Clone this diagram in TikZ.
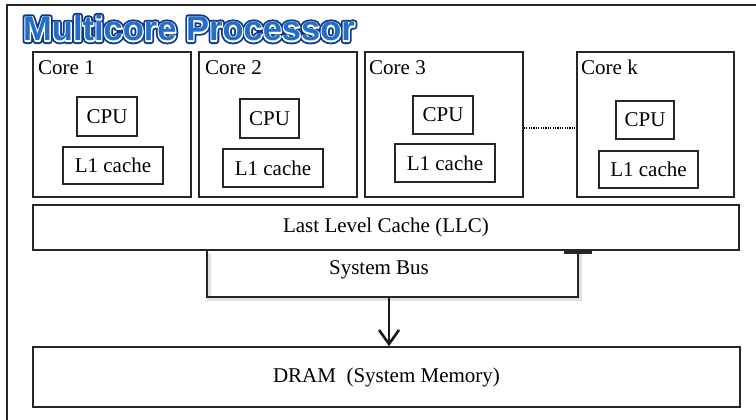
\documentclass[tikz,border=0pt]{standalone}
\usepackage{fontspec}
\setmainfont{Liberation Serif}
\newfontfamily\titlefont{Liberation Sans}
\usetikzlibrary{arrows.meta,calc}
\definecolor{tdark}{RGB}{15,55,140}
\definecolor{tmid}{RGB}{35,110,200}
\newcommand{\strokedtext}[2]{\special{pdf:literal direct 1 j 2 Tr #1 w}#2\special{pdf:literal direct 0 Tr 1 w 0 j}}
\tikzset{
  box/.style={draw=black!85, line width=1.6pt, inner sep=0pt, fill=white},
  lbl/.style={font=\fontsize{21}{23}\selectfont, inner sep=0pt},
  buswire/.style={line width=2.2pt, black!85},
  ttxt/.style={font=\titlefont\bfseries\fontsize{34.5}{37}\selectfont, inner sep=0pt, anchor=base west}
}
\begin{document}
\begin{tikzpicture}[x=1pt,y=-1pt]
\useasboundingbox (0,0) rectangle (756,420);
\fill[white] (0,0) rectangle (756,420);
% outer frame (cropped)
\draw[line width=2pt, black!85] (7,420) -- (7,5) -- (756,5);
% title: dark outline, thin white ring, blue letters
\coordinate (tpos) at (23,41);
\node[ttxt, text=tdark] (titlebg) at (tpos) {\strokedtext{6}{Multicore Processor}};
\node[ttxt, text=white] (titlering) at (tpos) {\strokedtext{2.4}{Multicore Processor}};
\node[ttxt, text=tmid] (title) at (tpos) {Multicore Processor};
% cores
\node[box, minimum width=158pt, minimum height=145pt] (c1) at (112,124.5) {};
\node[box, minimum width=158pt, minimum height=145pt] (c2) at (278,124.5) {};
\node[box, minimum width=158pt, minimum height=145pt] (c3) at (444,124.5) {};
\node[box, minimum width=157pt, minimum height=145pt] (ck) at (655.5,124.5) {};
\node[lbl, anchor=base west] (c1l) at (38,75) {Core 1};
\node[lbl, anchor=base west] (c2l) at (205,75) {Core 2};
\node[lbl, anchor=base west] (c3l) at (369,75) {Core 3};
\node[lbl, anchor=base west] (ckl) at (581,75) {Core k};
% CPUs
\node[box, lbl, minimum width=60pt, minimum height=39pt] (cpu1) at (107,116.5) {CPU};
\node[box, lbl, minimum width=59pt, minimum height=39pt] (cpu2) at (269.5,118.5) {CPU};
\node[box, lbl, minimum width=60pt, minimum height=38pt] (cpu3) at (443,115) {CPU};
\node[box, lbl, minimum width=58pt, minimum height=38pt] (cpuk) at (645,120) {CPU};
% L1
\node[box, lbl, minimum width=100pt, minimum height=37pt] (l1a) at (113,165.5) {L1 cache};
\node[box, lbl, minimum width=100pt, minimum height=38pt] (l1b) at (273,168) {L1 cache};
\node[box, lbl, minimum width=100pt, minimum height=38pt] (l1c) at (445,163) {L1 cache};
\node[box, lbl, minimum width=99pt, minimum height=37pt] (l1k) at (648.5,169.5) {L1 cache};
% dots
\draw[line width=1.6pt, dash pattern=on 1.2pt off 1.2pt] ([yshift=-3.5pt]c3.east) -- ([yshift=-3.5pt]ck.west);
% LLC and DRAM
\node[box, lbl, minimum width=706pt, minimum height=45pt] (llc) at (386,227.5) {Last Level Cache (LLC)};
\node[box, lbl, minimum width=707pt, minimum height=60pt] (dram) at (386.5,377) {DRAM\ \ (System Memory)};
% bus
\coordinate (bl) at (207,297);
\coordinate (br) at (578,297);
\coordinate (bm) at (389,297);
\draw[line width=4pt, black!20, opacity=0.6] ($(llc.south -| bl)+(2,2)$) -- ($(bl)+(2,2)$) -- ($(br)+(2,2)$) -- ($(llc.south -| br)+(2,2)$);
\draw[buswire] (llc.south -| bl) -- (bl) -- (br) -- (llc.south -| br);
\draw[line width=3pt, black!85] ($(llc.south -| br)+(-14,1.5)$) coordinate (capl) -- ($(llc.south -| br)+(14,1.5)$) coordinate (capr);
\node[lbl] (bus) at (379,270) {System Bus};
\draw[line width=2.6pt, black!90, -{Straight Barb[length=14pt,width=20pt,line width=2.6pt]}] (bm) -- (dram.north -| bm);
\end{tikzpicture}
\end{document}
